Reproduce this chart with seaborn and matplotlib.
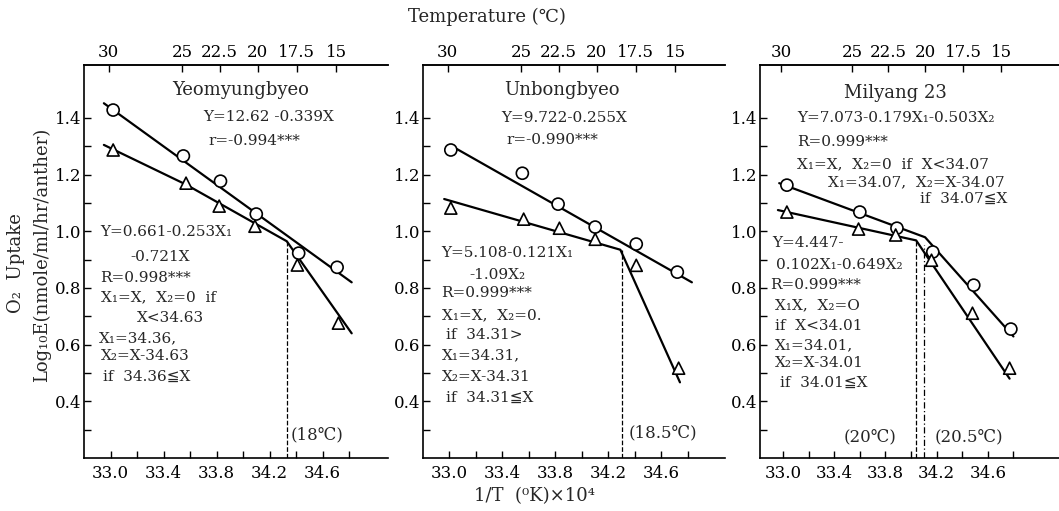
import pandas as pd
import seaborn as sns
import matplotlib
matplotlib.use('Agg')
import matplotlib.pyplot as plt
from matplotlib.ticker import FixedLocator

sns.set_theme(style="ticks")
plt.rcParams['font.family'] = ['DejaVu Serif', 'DejaVu Sans', 'Noto Sans CJK JP']

# ---- data ----
temp_ticks = [30, 25, 22.5, 20, 17.5, 15]

# Yeomyungbyeo
yeo_circ_x = [33.02, 33.55, 33.83, 34.10, 34.42, 34.71]
yeo_circ_y = [1.428, 1.266, 1.177, 1.061, 0.923, 0.873]
yeo_tri_x = [33.02, 33.57, 33.82, 34.09, 34.41, 34.72]
yeo_tri_y = [1.287, 1.170, 1.089, 1.018, 0.881, 0.676]
yeo_circ_fit_x = [32.95, 34.82]
yeo_circ_fit_y = [1.452, 0.820]
yeo_tri_fit_x = [32.95, 33.57, 34.33, 34.82]
yeo_tri_fit_y = [1.305, 1.165, 0.965, 0.640]
yeo_breaks = [(34.33, 0.965)]

# Unbongbyeo
unb_circ_x = [33.01, 33.55, 33.82, 34.10, 34.41, 34.72]
unb_circ_y = [1.287, 1.205, 1.096, 1.015, 0.955, 0.856]
unb_tri_x = [33.01, 33.56, 33.83, 34.10, 34.41, 34.73]
unb_tri_y = [1.082, 1.043, 1.011, 0.972, 0.880, 0.517]
unb_circ_fit_x = [33.02, 34.83]
unb_circ_fit_y = [1.300, 0.820]
unb_tri_fit_x = [32.96, 34.29, 34.74]
unb_tri_fit_y = [1.114, 0.935, 0.467]
unb_breaks = [(34.30, 0.935)]

# Milyang 23
mil_circ_x = [33.03, 33.60, 33.89, 34.17, 34.49, 34.78]
mil_circ_y = [1.163, 1.068, 1.011, 0.927, 0.810, 0.655]
mil_tri_x = [33.03, 33.59, 33.88, 34.16, 34.48, 34.77]
mil_tri_y = [1.068, 1.008, 0.987, 0.898, 0.711, 0.517]
mil_circ_fit_x = [32.97, 34.11, 34.80]
mil_circ_fit_y = [1.170, 0.979, 0.629]
mil_tri_fit_x = [32.96, 34.04, 34.77]
mil_tri_fit_y = [1.075, 0.968, 0.480]
mil_breaks = [(34.04, 0.968), (34.10, 0.950)]

W, H = 1059, 511
fig = plt.figure(figsize=(W / 100, H / 100), dpi=100)


def to_c(x):
    return 1e4 / x - 273.15


def to_inv(c):
    return 1e4 / (c + 273.15)


def panel(rect, xlim, cx, cy, tx, ty, cfx, cfy, tfx, tfy, breaks, title, tpos, texts, notes):
    ax = fig.add_axes(rect)
    pts = pd.concat([
        pd.DataFrame({'x': cx, 'y': cy, 'kind': 'circle'}),
        pd.DataFrame({'x': tx, 'y': ty, 'kind': 'triangle'}),
    ])
    fits = pd.concat([
        pd.DataFrame({'x': cfx, 'y': cfy, 'kind': 'circle'}),
        pd.DataFrame({'x': tfx, 'y': tfy, 'kind': 'triangle'}),
    ])
    sns.lineplot(data=fits, x='x', y='y', units='kind', estimator=None, sort=False,
                 color='black', lw=1.6, ax=ax)
    sns.scatterplot(data=pts, x='x', y='y', style='kind',
                    markers={'circle': 'o', 'triangle': '^'}, s=75,
                    facecolor='white', edgecolor='black', linewidth=1.2,
                    legend=False, zorder=3, ax=ax)
    styles = ['--', (0, (5, 2, 1, 2))]
    for i, (bx, by) in enumerate(breaks):
        ax.plot([bx, bx], [0.2, by], color='black', lw=0.9, ls=styles[i % 2])

    ax.set_xlim(*xlim)
    ax.set_ylim(0.2, 1.587)
    ax.set_xlabel('')
    ax.set_ylabel('')
    ax.xaxis.set_major_locator(FixedLocator([33.0, 33.4, 33.8, 34.2, 34.6]))
    ax.xaxis.set_minor_locator(FixedLocator([33.2, 33.6, 34.0, 34.4, 34.8]))
    ax.yaxis.set_major_locator(FixedLocator([0.4, 0.6, 0.8, 1.0, 1.2, 1.4]))
    ax.yaxis.set_minor_locator(FixedLocator([0.3, 0.5, 0.7, 0.9, 1.1, 1.3]))
    ax.set_xticklabels(['33.0', '33.4', '33.8', '34.2', '34.6'])
    ax.set_yticklabels(['0.4', '0.6', '0.8', '1.0', '1.2', '1.4'])
    ax.tick_params(which='both', direction='in', length=5, width=1, colors='black',
                   labelsize=12)
    ax.tick_params(axis='y', pad=2)
    ax.tick_params(axis='x', pad=5)
    for s in ['left', 'top', 'bottom']:
        ax.spines[s].set_color('black')
        ax.spines[s].set_linewidth(1.2)
    ax.spines['right'].set_visible(False)

    top = ax.secondary_xaxis('top', functions=(to_c, to_inv))
    top.set_ticks(temp_ticks)
    top.set_xticklabels(['30', '25', '22.5', '20', '17.5', '15'])
    top.tick_params(direction='in', length=5, width=1, colors='black', labelsize=12, pad=3)
    top.spines['top'].set_linewidth(1.2)
    top.set_xlabel('')

    ax.text(tpos[0], tpos[1], title, fontsize=13, ha='center', va='center')
    for x, y, s in texts:
        ax.text(x, y, s, fontsize=11, ha='left', va='center')
    for x, y, s in notes:
        ax.text(x, y, s, fontsize=12, ha='center', va='center')
    return ax


panel([84 / W, 53 / H, 304 / W, 393 / H], (32.8, 35.094),
      yeo_circ_x, yeo_circ_y, yeo_tri_x, yeo_tri_y,
      yeo_circ_fit_x, yeo_circ_fit_y, yeo_tri_fit_x, yeo_tri_fit_y, yeo_breaks,
      'Yeomyungbyeo', (33.98, 1.499),
      [(33.70, 1.403, 'Y=12.62 -0.339X'),
       (33.74, 1.319, 'r=-0.994***'),
       (32.925, 0.997, 'Y=0.661-0.253X₁'),
       (33.15, 0.909, '-0.721X'),
       (32.925, 0.835, 'R=0.998***'),
       (32.925, 0.767, 'X₁=X,  X₂=0  if'),
       (33.20, 0.693, 'X<34.63'),
       (32.91, 0.623, 'X₁=34.36,'),
       (32.925, 0.559, 'X₂=X-34.63'),
       (32.94, 0.485, 'if  34.36≦X')],
      [(34.56, 0.283, '(18℃)')])

panel([423 / W, 53 / H, 302 / W, 393 / H], (32.8, 35.08),
      unb_circ_x, unb_circ_y, unb_tri_x, unb_tri_y,
      unb_circ_fit_x, unb_circ_fit_y, unb_tri_fit_x, unb_tri_fit_y, unb_breaks,
      'Unbongbyeo', (33.85, 1.499),
      [(33.39, 1.400, 'Y=9.722-0.255X'),
       (33.43, 1.322, 'r=-0.990***'),
       (32.94, 0.923, 'Y=5.108-0.121X₁'),
       (33.15, 0.845, '-1.09X₂'),
       (32.94, 0.782, 'R=0.999***'),
       (32.94, 0.704, 'X₁=X,  X₂=0.'),
       (32.97, 0.633, 'if  34.31>'),
       (32.94, 0.563, 'X₁=34.31,'),
       (32.94, 0.485, 'X₂=X-34.31'),
       (32.97, 0.411, 'if  34.31≦X')],
      [(34.61, 0.290, '(18.5℃)')])

panel([760 / W, 53 / H, 299 / W, 393 / H], (32.82, 35.156),
      mil_circ_x, mil_circ_y, mil_tri_x, mil_tri_y,
      mil_circ_fit_x, mil_circ_fit_y, mil_tri_fit_x, mil_tri_fit_y, mil_breaks,
      'Milyang 23', (33.875, 1.488),
      [(33.11, 1.400, 'Y=7.073-0.179X₁-0.503X₂'),
       (33.11, 1.315, 'R=0.999***'),
       (33.11, 1.237, 'X₁=X,  X₂=0  if  X<34.07'),
       (33.35, 1.174, 'X₁=34.07,  X₂=X-34.07'),
       (34.07, 1.114, 'if  34.07≦X'),
       (32.914, 0.958, 'Y=4.447-'),
       (32.945, 0.880, '0.102X₁-0.649X₂'),
       (32.90, 0.810, 'R=0.999***'),
       (32.94, 0.739, 'X₁X,  X₂=O'),
       (32.94, 0.665, 'if  X<34.01'),
       (32.94, 0.598, 'X₁=34.01,'),
       (32.94, 0.534, 'X₂=X-34.01'),
       (32.98, 0.464, 'if  34.01≦X')],
      [(33.68, 0.273, '(20℃)'), (34.45, 0.273, '(20.5℃)')])

fig.text(487 / W, 1 - 17 / H, 'Temperature (℃)', fontsize=13, ha='center', va='center')
fig.text(535 / W, 1 - 496 / H, '1/T  (⁰K)×10⁴', fontsize=13, ha='center', va='center')
fig.text(16 / W, 1 - 263 / H, 'O₂  Uptake', fontsize=13, rotation=90, ha='center', va='center')
fig.text(42 / W, 1 - 255 / H, 'Log₁₀E(nmole/ml/hr/anther)', fontsize=13, rotation=90,
         ha='center', va='center')

fig.savefig('out.png', dpi=100)
